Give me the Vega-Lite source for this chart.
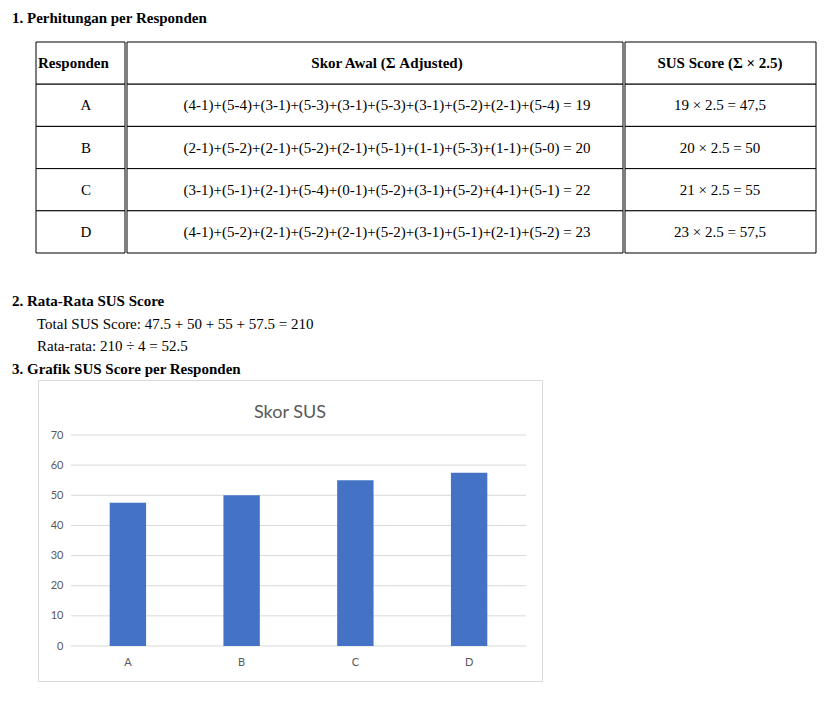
{
  "$schema": "https://vega.github.io/schema/vega-lite/v6.json",
  "padding": 0,
  "spacing": 0,
  "config": {"view": {"stroke": null}, "text": {"font": "Liberation Serif", "fontSize": 15, "color": "#000"}},
  "vconcat": [
    {
      "width": 832, "height": 41,
      "data": {"values": [{"t": "1.   Perhitungan per Responden"}]},
      "mark": {"type": "text", "align": "left", "fontWeight": "bold", "baseline": "middle"},
      "encoding": {"text": {"field": "t"}, "x": {"value": 12}, "y": {"value": 18}}
    },
    {
      "spacing": 0,
      "hconcat": [
        {"width": 35, "height": 211, "data": {"values": [{}]}, "mark": "text", "encoding": {"text": {"value": ""}}},
        {
          "width": 89, "height": 211,
          "data": {"values": [{"r": 0, "v": "Responden"}, {"r": 1, "v": "A"}, {"r": 2, "v": "B"}, {"r": 3, "v": "C"}, {"r": 4, "v": "D"}]},
          "encoding": {"y": {"field": "r", "type": "ordinal", "scale": {"paddingInner": 0, "paddingOuter": 0}, "axis": null}},
          "layer": [
            {"mark": {"type": "rect", "fill": "white", "stroke": "black", "strokeWidth": 1}},
            {"transform": [{"filter": "datum.r > 0"}], "mark": {"type": "text", "align": "center"}, "encoding": {"text": {"field": "v"}, "x": {"value": 50}}},
            {"transform": [{"filter": "datum.r == 0"}], "mark": {"type": "text", "align": "left", "fontWeight": "bold"}, "encoding": {"text": {"field": "v"}, "x": {"value": 2}}}
          ]
        },
        {
          "width": 496, "height": 211,
          "data": {"values": [
            {"r": 0, "v": "Skor Awal (Σ Adjusted)"},
            {"r": 1, "v": "(4-1)+(5-4)+(3-1)+(5-3)+(3-1)+(5-3)+(3-1)+(5-2)+(2-1)+(5-4) = 19"},
            {"r": 2, "v": "(2-1)+(5-2)+(2-1)+(5-2)+(2-1)+(5-1)+(1-1)+(5-3)+(1-1)+(5-0) = 20"},
            {"r": 3, "v": "(3-1)+(5-1)+(2-1)+(5-4)+(0-1)+(5-2)+(3-1)+(5-2)+(4-1)+(5-1) = 22"},
            {"r": 4, "v": "(4-1)+(5-2)+(2-1)+(5-2)+(2-1)+(5-2)+(3-1)+(5-1)+(2-1)+(5-2) = 23"}
          ]},
          "encoding": {"y": {"field": "r", "type": "ordinal", "scale": {"paddingInner": 0, "paddingOuter": 0}, "axis": null}},
          "layer": [
            {"mark": {"type": "rect", "fill": "white", "stroke": "black", "strokeWidth": 1}},
            {"transform": [{"filter": "datum.r > 0"}], "mark": {"type": "text", "align": "center"}, "encoding": {"text": {"field": "v"}, "x": {"value": 260}}},
            {"transform": [{"filter": "datum.r == 0"}], "mark": {"type": "text", "align": "center", "fontWeight": "bold"}, "encoding": {"text": {"field": "v"}, "x": {"value": 260}}}
          ]
        },
        {
          "width": 191, "height": 211,
          "data": {"values": [
            {"r": 0, "v": "SUS Score (Σ × 2.5)"},
            {"r": 1, "v": "19 × 2.5 = 47,5"},
            {"r": 2, "v": "20 × 2.5 = 50"},
            {"r": 3, "v": "21 × 2.5 = 55"},
            {"r": 4, "v": "23 × 2.5 = 57,5"}
          ]},
          "encoding": {"y": {"field": "r", "type": "ordinal", "scale": {"paddingInner": 0, "paddingOuter": 0}, "axis": null}},
          "layer": [
            {"mark": {"type": "rect", "fill": "white", "stroke": "black", "strokeWidth": 1}},
            {"transform": [{"filter": "datum.r > 0"}], "mark": {"type": "text", "align": "center"}, "encoding": {"text": {"field": "v"}, "x": {"value": 95}}},
            {"transform": [{"filter": "datum.r == 0"}], "mark": {"type": "text", "align": "center", "fontWeight": "bold"}, "encoding": {"text": {"field": "v"}, "x": {"value": 95}}}
          ]
        }
      ]
    },
    {
      "width": 832, "height": 125,
      "data": {"values": [
        {"line": 1, "t": "2.   Rata-Rata SUS Score", "b": true, "ind": 12},
        {"line": 2, "t": "Total SUS Score: 47.5 + 50 + 55 + 57.5 = 210", "b": false, "ind": 37},
        {"line": 3, "t": "Rata-rata: 210 ÷ 4 = 52.5", "b": false, "ind": 37},
        {"line": 4, "t": "3.   Grafik SUS Score per Responden", "b": true, "ind": 12}
      ]},
      "encoding": {
        "text": {"field": "t"},
        "x": {"field": "ind", "type": "quantitative", "scale": {"domain": [0, 832], "range": [0, 832]}, "axis": null},
        "y": {"field": "line", "type": "quantitative", "scale": {"domain": [-1.07, 4.44], "reverse": true, "zero": false, "nice": false}, "axis": null}
      },
      "layer": [
        {"transform": [{"filter": "datum.b"}], "mark": {"type": "text", "align": "left", "baseline": "middle", "fontWeight": "bold"}},
        {"transform": [{"filter": "!datum.b"}], "mark": {"type": "text", "align": "left", "baseline": "middle"}}
      ]
    },
    {
      "spacing": 0,
      "hconcat": [
        {"width": 37, "height": 301, "data": {"values": [{}]}, "mark": "text", "encoding": {"text": {"value": ""}}},
        {
          "width": 504, "height": 301,
          "view": {"stroke": "#d9d9d9", "fill": "white"},
          "title": {"text": "Skor SUS", "font": "Lato", "fontSize": 18, "fontWeight": "normal", "color": "#595959", "offset": -42},
          "layer": [
            {
              "data": {"values": [{"g": 0}, {"g": 10}, {"g": 20}, {"g": 30}, {"g": 40}, {"g": 50}, {"g": 60}, {"g": 70}]},
              "mark": {"type": "rule", "color": "#d9d9d9"},
              "encoding": {
                "y": {"field": "g", "type": "quantitative", "scale": {"domain": [0, 70], "range": [266, 55], "nice": false},
                  "axis": {"title": null, "grid": false, "domain": false, "ticks": false, "offset": -33, "labelPadding": 8, "values": [0, 10, 20, 30, 40, 50, 60, 70], "labelFont": "Lato", "labelFontSize": 11, "labelColor": "#595959"}},
                "x": {"value": 33}, "x2": {"value": 488}
              }
            },
            {
              "data": {"values": [
                {"Responden": "A", "Skor": 47.5},
                {"Responden": "B", "Skor": 50},
                {"Responden": "C", "Skor": 55},
                {"Responden": "D", "Skor": 57.5}
              ]},
              "mark": {"type": "bar", "color": "#4472C4"},
              "encoding": {
                "x": {"field": "Responden", "type": "nominal", "scale": {"range": [33, 488], "paddingInner": 0.68, "paddingOuter": 0.34},
                  "axis": {"title": null, "labelAngle": 0, "domain": false, "ticks": false, "grid": false, "offset": -35, "labelPadding": 10, "labelFont": "Lato", "labelFontSize": 11, "labelColor": "#595959"}},
                "y": {"field": "Skor", "type": "quantitative", "scale": {"domain": [0, 70], "range": [266, 55], "nice": false},
                  "axis": {"title": null, "grid": false, "domain": false, "ticks": false, "offset": -33, "labelPadding": 8, "values": [0, 10, 20, 30, 40, 50, 60, 70], "labelFont": "Lato", "labelFontSize": 11, "labelColor": "#595959"}}
              }
            }
          ]
        }
      ]
    }
  ]
}
